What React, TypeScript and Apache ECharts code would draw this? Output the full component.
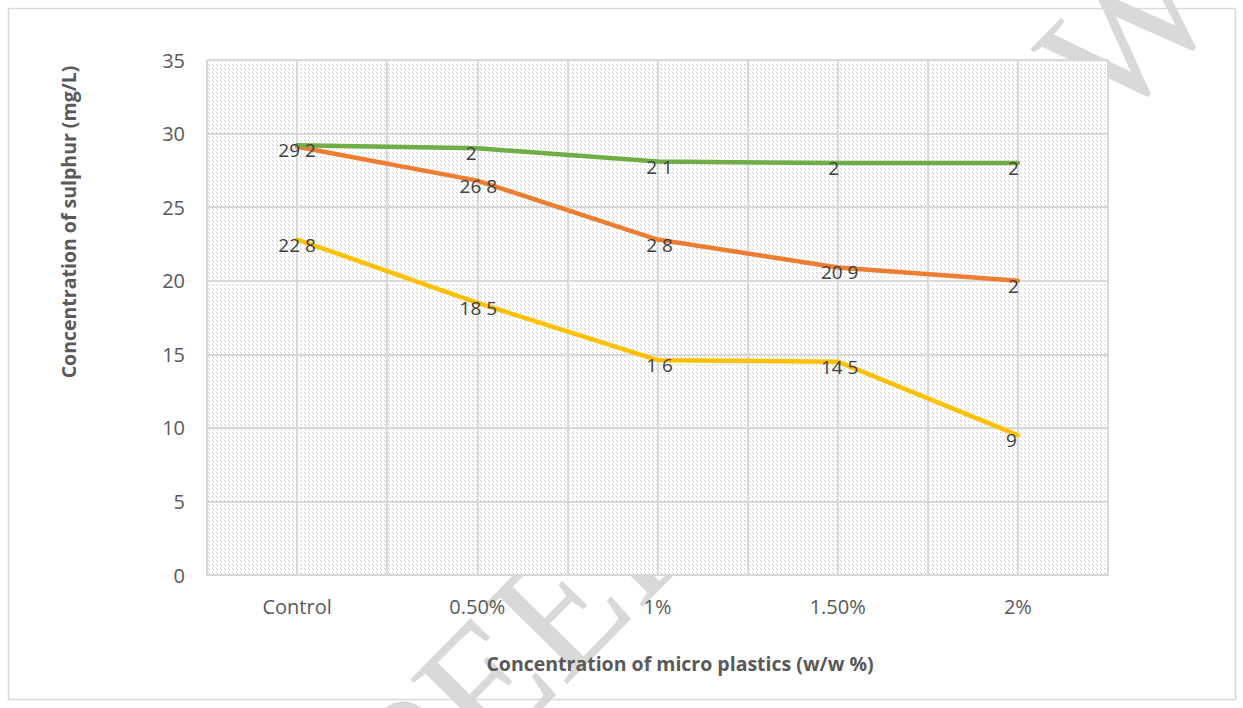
import React, { useEffect, useRef } from "react";
import * as echarts from "echarts";

const categories = ["Control", "0.50%", "1%", "1.50%", "2%"];
const greenValues = [29.2, 29.0, 28.1, 28.0, 28.0];
const orangeValues = [29.1, 26.8, 22.8, 20.9, 20.0];
const yellowValues = [22.8, 18.5, 14.6, 14.5, 9.5];
const greenLabels = ["29 2", "2", "2 1", "2", "2"];
const orangeLabels = ["", "26 8", "2 8", "20 9", "2"];
const yellowLabels = ["22 8", "18 5", "1 6", "14 5", "9"];
const yTitle = "Concentration of sulphur (mg/L)";
const xTitle = "Concentration of micro plastics (w/w %)";
const watermark = "PEER REVIEW";

// label nudges (style only)
const greenDx = [0, -6, 2, -4, -4.5];
const orangeDx = [0, 1, 2, 2, -4.5];
const yellowDx = [0, 1, 2, 2, -6.5];

const FONT = "'Open Sans', 'Noto Sans', sans-serif";

function makePattern() {
  const c = document.createElement("canvas");
  c.width = 8;
  c.height = 8;
  const ctx = c.getContext("2d")!;
  ctx.fillStyle = "#ffffff";
  ctx.fillRect(0, 0, 8, 8);
  ctx.fillStyle = "#cdcdcd";
  const pts = [
    [0, 0], [1, 1], [4, 4], [5, 5],
    [4, 0], [5, 1], [0, 4], [1, 5],
  ];
  pts.forEach(([x, y]) => ctx.fillRect(x, y, 1, 1));
  return c;
}

function buildSeries(name: string, values: number[], labels: string[], dx: number[], color: string) {
  return {
    name,
    type: "line",
    xAxisIndex: 0,
    yAxisIndex: 0,
    symbol: "circle",
    symbolSize: 2,
    itemStyle: { color },
    lineStyle: { color, width: 4.5, cap: "round", join: "round" },
    label: {
      show: true,
      position: "inside",
      align: "center",
      verticalAlign: "middle",
      color: "#404040",
      fontFamily: FONT,
      fontSize: 19,
    },
    data: values.map((v, i) => ({
      value: v,
      label: { formatter: labels[i] === "" ? " " : labels[i], offset: [dx[i], 5] },
    })),
  };
}

export default function App() {
  const ref = useRef<HTMLDivElement>(null);
  useEffect(() => {
    if (!ref.current) return;
    const chart = echarts.init(ref.current, null, { renderer: "svg" });
    const pattern = makePattern();
    chart.setOption({
      animation: false,
      backgroundColor: "#ffffff",
      grid: {
        show: true,
        left: 207,
        right: 135,
        top: 60,
        bottom: 133,
        borderWidth: 0,
        backgroundColor: { image: pattern, repeat: "repeat", imageWidth: 8, imageHeight: 8 },
        z: 0,
      },
      xAxis: [
        {
          type: "category",
          data: categories,
          boundaryGap: true,
          axisLine: { show: true, lineStyle: { color: "#d9d9d9", width: 2 } },
          axisTick: { show: false },
          splitLine: { show: false },
          axisLabel: { color: "#595959", fontFamily: FONT, fontSize: 20, margin: 21 },
        },
        {
          type: "value",
          min: 0,
          max: 10,
          interval: 1,
          position: "bottom",
          show: true,
          axisLine: { show: false },
          axisTick: { show: false },
          axisLabel: { show: false },
          splitLine: { show: true, lineStyle: { color: "#d9d9d9", width: 2 } },
        },
      ],
      yAxis: {
        type: "value",
        min: 0,
        max: 35,
        interval: 5,
        axisLine: { show: false },
        axisTick: { show: false },
        axisLabel: { color: "#595959", fontFamily: FONT, fontSize: 20, margin: 22 },
        splitLine: { show: true, lineStyle: { color: "#d9d9d9", width: 2 } },
      },
      series: [
        buildSeries("Yellow", yellowValues, yellowLabels, yellowDx, "#FFC000"),
        buildSeries("Orange", orangeValues, orangeLabels, orangeDx, "#ED7D31"),
        buildSeries("Green", greenValues, greenLabels, greenDx, "#70AD47"),
      ],
      graphic: [
        {
          type: "text",
          z: -5,
          x: 782,
          y: 381,
          rotation: (45.5 * Math.PI) / 180,
          style: {
            text: watermark,
            font: "175px 'Liberation Serif', serif",
            fill: "#d9d9d9",
            align: "center",
            verticalAlign: "middle",
          },
        },
        {
          type: "rect",
          z: 10,
          shape: { x: 8.5, y: 8.5, width: 1227, height: 691 },
          style: { fill: "none", stroke: "#d9d9d9", lineWidth: 1.5 },
        },
        {
          type: "text",
          z: 10,
          x: 68,
          y: 222,
          rotation: Math.PI / 2,
          style: {
            text: yTitle,
            font: `bold 19.5px ${FONT}`,
            fill: "#595959",
            align: "center",
            verticalAlign: "middle",
          },
        },
        {
          type: "text",
          z: 10,
          x: 680,
          y: 663,
          style: {
            text: xTitle,
            font: `bold 19.5px ${FONT}`,
            fill: "#595959",
            align: "center",
            verticalAlign: "middle",
          },
        },
      ],
    });
    return () => chart.dispose();
  }, []);
  return (
    <div
      ref={ref}
      style={{ position: "absolute", left: 0, top: 0, width: 1243, height: 708 }}
    />
  );
}
